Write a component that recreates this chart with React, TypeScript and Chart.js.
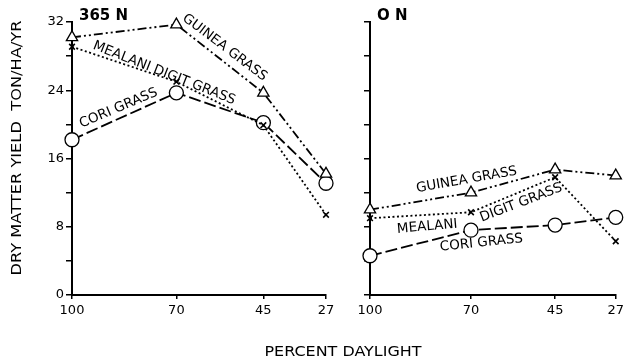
import React, { useEffect, useRef } from "react";
import { Chart, registerables } from "chart.js";

Chart.register(...registerables);

const daylight = [100, 70, 45, 27];
const xTickValues = [100, 70, 45, 27];

// 365 N panel
const guineaN365 = [30.2, 31.7, 23.7, 14.2];
const mealaniN365 = [29.1, 25.0, 19.9, 9.4];
const coriN365 = [18.2, 23.7, 20.2, 13.1];

// 0 N panel
const guineaN0 = [10.0, 12.0, 14.7, 14.0];
const mealaniN0 = [9.0, 9.7, 13.8, 6.3];
const coriN0 = [4.6, 7.6, 8.2, 9.1];

const yTitle = "DRY MATTER YIELD  TON/HA/YR";
const xTitle = "PERCENT DAYLIGHT";

type Lbl = { text: string; x: number; y: number; angle: number };

const labelsN365: Lbl[] = [
  { text: "GUINEA GRASS", x: 56.1, y: 29.0, angle: 37 },
  { text: "MEALANI DIGIT GRASS", x: 73.5, y: 26.0, angle: 21.5 },
  { text: "CORI GRASS", x: 86.6, y: 21.9, angle: -23 },
];
const labelsN0: Lbl[] = [
  { text: "GUINEA GRASS", x: 71.3, y: 13.5, angle: -10 },
  { text: "MEALANI", x: 83.0, y: 8.0, angle: -5 },
  { text: "DIGIT GRASS", x: 55.1, y: 10.8, angle: -21 },
  { text: "CORI GRASS", x: 66.9, y: 6.1, angle: -6 },
];

const FONT = "'DejaVu Sans', sans-serif";
const W = 628;
const H = 362;

function makeDatasets(g: number[], m: number[], c: number[]) {
  const common = {
    borderColor: "#000",
    pointBorderColor: "#000",
    pointBackgroundColor: "#fff",
    borderWidth: 1.8,
    pointBorderWidth: 1.3,
    fill: false,
    tension: 0,
    clip: false,
  };
  return [
    {
      ...common,
      label: "Guinea grass",
      data: daylight.map((x, i) => ({ x, y: g[i] })),
      borderDash: [9, 3, 2, 3, 2, 3],
      pointStyle: "triangle",
      pointRadius: 6.5,
    },
    {
      ...common,
      label: "Mealani digit grass",
      data: daylight.map((x, i) => ({ x, y: m[i] })),
      borderDash: [2, 2.5],
      pointStyle: "crossRot",
      pointRadius: 4,
      pointBorderWidth: 1.6,
    },
    {
      ...common,
      label: "Cori grass",
      data: daylight.map((x, i) => ({ x, y: c[i] })),
      borderDash: [12, 4],
      pointStyle: "circle",
      pointRadius: 7,
    },
  ];
}

function labelPlugin(labels: Lbl[], panelTitle: string, drawTitles: boolean) {
  return {
    id: "labels",
    afterDatasetsDraw(chart: any) {
      const ctx = chart.ctx;
      const xs = chart.scales.x;
      const ys = chart.scales.y;
      ctx.save();
      ctx.fillStyle = "#000";
      ctx.textAlign = "center";
      ctx.textBaseline = "middle";
      ctx.font = `13.5px ${FONT}`;
      for (const l of labels) {
        const px = xs.getPixelForValue(l.x);
        const py = ys.getPixelForValue(l.y);
        ctx.save();
        ctx.translate(px, py);
        ctx.rotate((l.angle * Math.PI) / 180);
        ctx.fillText(l.text, 0, 0);
        ctx.restore();
      }
      // panel title
      const ca = chart.chartArea;
      ctx.textAlign = "left";
      ctx.font = `bold 15px ${FONT}`;
      ctx.fillText(panelTitle, ca.left + 7, ca.top - 6);

      if (drawTitles) {
        // y axis title
        ctx.font = `14px ${FONT}`;
        ctx.textAlign = "center";
        const tw = ctx.measureText(yTitle).width;
        const target = 255;
        ctx.save();
        ctx.translate(17, 148);
        ctx.rotate(-Math.PI / 2);
        ctx.scale(target / tw, 1);
        ctx.fillText(yTitle, 0, 0);
        ctx.restore();
        // x axis title
        ctx.font = `14px ${FONT}`;
        const tw2 = ctx.measureText(xTitle).width;
        ctx.save();
        ctx.translate(343, 352);
        ctx.scale(157 / tw2, 1);
        ctx.fillText(xTitle, 0, 0);
        ctx.restore();
      }
      ctx.restore();
    },
  };
}

function makeConfig(
  g: number[],
  m: number[],
  c: number[],
  labels: Lbl[],
  title: string,
  left: boolean
): any {
  return {
    type: "line",
    data: { datasets: makeDatasets(g, m, c) },
    options: {
      responsive: false,
      animation: false,
      devicePixelRatio: 1,
      layout: {
        padding: left
          ? { left: 0, top: 22, right: W - 326, bottom: 0 }
          : { left: 335, top: 22, right: 8, bottom: 0 },
      },
      plugins: { legend: { display: false }, tooltip: { enabled: false } },
      scales: {
        x: {
          type: "linear",
          min: 27,
          max: 100,
          reverse: true,
          afterBuildTicks: (s: any) => {
            s.ticks = xTickValues.map((v) => ({ value: v }));
          },
          afterFit: (s: any) => {
            s.height = 67;
          },
          ticks: {
            autoSkip: false,
            maxRotation: 0,
            color: "#000",
            font: { family: FONT, size: 13 },
            padding: 4,
            callback: (v: any) => String(v),
          },
          grid: {
            display: true,
            drawOnChartArea: false,
            drawTicks: true,
            tickLength: 4,
            color: "#000",
            lineWidth: 1.5,
          },
          border: { display: true, color: "#000", width: 2 },
        },
        y: {
          type: "linear",
          min: 0,
          max: 32,
          afterFit: (s: any) => {
            s.width = left ? 72 : 35;
          },
          ticks: {
            stepSize: 4,
            color: "#000",
            font: { family: FONT, size: 13 },
            padding: 2,
            callback: (v: any) => (left && v % 8 === 0 ? String(v) : ""),
          },
          grid: {
            display: true,
            drawOnChartArea: false,
            drawTicks: true,
            tickLength: 6,
            color: "#000",
            lineWidth: 1.5,
          },
          border: { display: true, color: "#000", width: 2 },
        },
      },
    },
    plugins: [labelPlugin(labels, title, left)],
  };
}

export default function App() {
  const leftRef = useRef<HTMLCanvasElement>(null);
  const rightRef = useRef<HTMLCanvasElement>(null);

  useEffect(() => {
    const c1 = new Chart(
      leftRef.current!,
      makeConfig(guineaN365, mealaniN365, coriN365, labelsN365, "365 N", true)
    );
    const c2 = new Chart(
      rightRef.current!,
      makeConfig(guineaN0, mealaniN0, coriN0, labelsN0, "O N", false)
    );
    return () => {
      c1.destroy();
      c2.destroy();
    };
  }, []);

  const style: React.CSSProperties = {
    position: "absolute",
    left: 0,
    top: 0,
    width: W,
    height: H,
  };
  return (
    <div
      style={{
        position: "fixed",
        left: 0,
        top: 0,
        width: W,
        height: H,
        background: "#fff",
      }}
    >
      <canvas ref={leftRef} width={W} height={H} style={style} />
      <canvas ref={rightRef} width={W} height={H} style={style} />
    </div>
  );
}
